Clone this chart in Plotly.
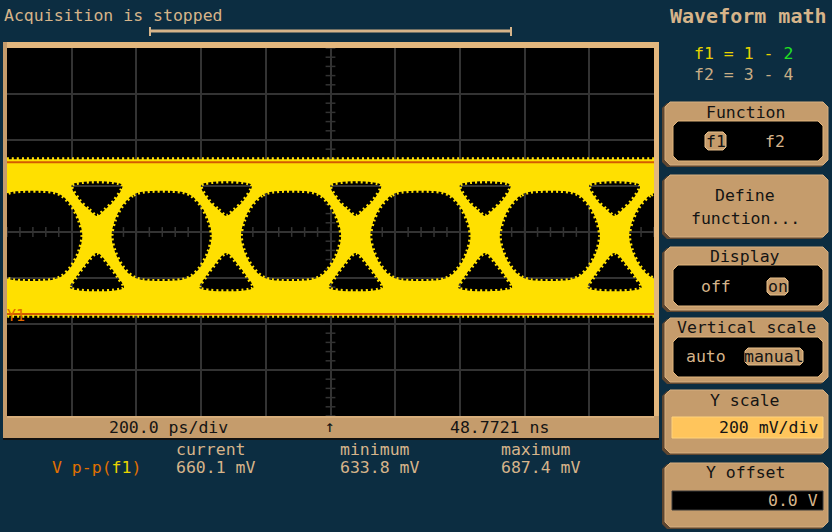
import numpy as np
import plotly.graph_objects as go

W, H = 832, 532

# ---------------- data ----------------
TIME_RANGE_PS = [-1000, 1000]      # 10 div x 200 ps/div
VOLT_RANGE_MV = [-800, 800]        # 8 div x 200 mV/div
CROSSING_TIMES_PS = [-722, -322, 78, 478, 878]
EYE_CENTER_TIMES_PS = [-922, -522, -122, 278, 678, 1078]
LEVEL_HIGH_MV = 303
LEVEL_LOW_MV = -357
BAND_TOP_MV = 316
BAND_BOTTOM_MV = -364
BAND_EDGE_TIMES_PS = [-1200, -1000, -800, -600, -400, -200, 0, 200, 400, 600, 800, 1000, 1200]

# eye opening outline (time offset from eye centre, absolute voltage)
EYE_DT_PS = [60, 90, 120, 145, 155, 145, 120, 90, 60, -60, -90, -120, -145, -155, -145, -120, -90, -60]
EYE_V_MV = [175, 160, 118, 50, -17, -84, -152, -194, -209, -209, -194, -152, -84, -17, 50, 118, 160, 175]
# triangular openings above / below each crossing (time offset from crossing)
UPPER_TRI_DT_PS = [-78, 78, 55, 24, 0, -24, -55]
UPPER_TRI_V_MV = [204, 204, 139, 96, 70, 96, 139]
LOWER_TRI_DT_PS = [0, 37, 65, 83, -83, -65, -37]
LOWER_TRI_V_MV = [-91, -143, -196, -243, -243, -196, -143]

MEAS_LABEL = "V p-p(f1)"
MEAS_COLUMNS = ["current", "minimum", "maximum"]
MEAS_VALUES = ["660.1 mV", "633.8 mV", "687.4 mV"]
TIMEBASE = "200.0 ps/div"
TRIG_POS = "48.7721 ns"

# ---------------- styling ----------------
BG = "#0c2d41"
TAN = "#c59c6c"
TAN_LIGHT = "#e3b77e"
TAN_TEXT = "#d6b48a"
YELLOW = "#ffe000"
ORANGE = "#d45c00"
GRID = "#333333"
MONO = "DejaVu Sans Mono"


def PX(x):
    return x / W


def PY(y):
    return 1 - y / H


fig = go.Figure()

# graticule centre-line ticks
tx = np.arange(TIME_RANGE_PS[0], TIME_RANGE_PS[1] + 1, 40)
vy = np.arange(VOLT_RANGE_MV[0], VOLT_RANGE_MV[1] + 1, 40)
fig.add_trace(go.Scatter(x=tx, y=np.zeros_like(tx), mode="markers",
                         marker=dict(symbol="line-ns", size=7, line=dict(color=GRID, width=1.5)),
                         hoverinfo="skip", showlegend=False))
fig.add_trace(go.Scatter(x=np.zeros_like(vy), y=vy, mode="markers",
                         marker=dict(symbol="line-ew", size=7, line=dict(color=GRID, width=1.5)),
                         hoverinfo="skip", showlegend=False))

# yellow band with openings as holes (opposite winding)
bx, by = [], []
bx += BAND_EDGE_TIMES_PS
by += [BAND_TOP_MV] * len(BAND_EDGE_TIMES_PS)
bx += BAND_EDGE_TIMES_PS[::-1]
by += [BAND_BOTTOM_MV] * len(BAND_EDGE_TIMES_PS)
bx.append(BAND_EDGE_TIMES_PS[0]); by.append(BAND_TOP_MV)


def add_hole(cx, dts, vs):
    xs = [cx + d for d in dts][::-1]
    ys = list(vs)[::-1]
    xs.append(xs[0]); ys.append(ys[0])
    bx.append(None); by.append(None)
    bx.extend(xs); by.extend(ys)


for c in EYE_CENTER_TIMES_PS:
    add_hole(c, EYE_DT_PS, EYE_V_MV)
for c in CROSSING_TIMES_PS:
    add_hole(c, UPPER_TRI_DT_PS, UPPER_TRI_V_MV)
    add_hole(c, LOWER_TRI_DT_PS, LOWER_TRI_V_MV)

fig.add_trace(go.Scatter(x=bx, y=by, mode="lines", fill="toself", fillcolor=YELLOW,
                         line=dict(color=YELLOW, width=4, shape="spline", smoothing=0.9,
                                   dash="2px,3px"),
                         connectgaps=False, hoverinfo="skip", showlegend=False))

# level lines
for lv in (LEVEL_HIGH_MV, LEVEL_LOW_MV):
    fig.add_trace(go.Scatter(x=TIME_RANGE_PS, y=[lv, lv], mode="lines",
                             line=dict(color=ORANGE, width=2), hoverinfo="skip", showlegend=False))

fig.update_layout(
    width=W, height=H, margin=dict(l=0, r=0, t=0, b=0),
    paper_bgcolor=BG, plot_bgcolor="#000000",
    xaxis=dict(domain=[PX(7), PX(654)], range=TIME_RANGE_PS, dtick=200, tick0=0,
               showgrid=True, gridcolor=GRID, gridwidth=2, zeroline=False,
               showticklabels=False, ticks="", showline=False, fixedrange=True),
    yaxis=dict(domain=[PY(416), PY(48)], range=VOLT_RANGE_MV, dtick=200, tick0=0,
               showgrid=True, gridcolor=GRID, gridwidth=2, zeroline=False,
               showticklabels=False, ticks="", showline=False, fixedrange=True),
    showlegend=False,
)

shapes = []


def rect(x0, y0, x1, y1, fill, line=None, lw=0):
    shapes.append(dict(type="rect", xref="paper", yref="paper",
                       x0=PX(x0), x1=PX(x1), y0=PY(y1), y1=PY(y0),
                       fillcolor=fill, line=dict(color=line or fill, width=lw), layer="above"))


def chamfer_path(x0, y0, x1, y1, c):
    pts = [(x0 + c, y0), (x1 - c, y0), (x1, y0 + c), (x1, y1 - c), (x1 - c, y1),
           (x0 + c, y1), (x0, y1 - c), (x0, y0 + c)]
    return "M" + " L".join(f"{PX(x):.5f},{PY(y):.5f}" for x, y in pts) + " Z"


def cpath(x0, y0, x1, y1, c, fill, line=None, lw=0):
    shapes.append(dict(type="path", xref="paper", yref="paper", path=chamfer_path(x0, y0, x1, y1, c),
                       fillcolor=fill, line=dict(color=line or fill, width=lw), layer="above"))


def line(x0, y0, x1, y1, color, w):
    shapes.append(dict(type="line", xref="paper", yref="paper", x0=PX(x0), y0=PY(y0),
                       x1=PX(x1), y1=PY(y1), line=dict(color=color, width=w), layer="above"))


# frame around the graticule
rect(3, 42, 659, 48, TAN_LIGHT)
rect(3, 42, 7, 439, TAN)
rect(654, 42, 659, 439, TAN_LIGHT)
rect(3, 416, 659, 438, TAN)
line(3, 439, 659, 439, "#111111", 2)
line(7, 417, 654, 417, "#e8c08c", 1)

# trigger bar
line(150, 31, 511, 31, TAN_TEXT, 3)
line(150, 27, 150, 36, TAN_TEXT, 2)
line(511, 27, 511, 36, TAN_TEXT, 2)

# right-hand menu boxes
boxes = [(102, 165), (175, 237), (247, 310), (318, 382), (390, 453), (463, 527)]
for (y0, y1) in boxes:
    cpath(662, y0 + 1, 826, y1 + 2, 5, "#5e4630")
    cpath(665, y0, 828, y1, 5, TAN, "#d8b080", 1)

cpath(673, 121, 823, 161, 5, "#000000", TAN_LIGHT, 1)
cpath(673, 265, 823, 306, 5, "#000000", TAN_LIGHT, 1)
cpath(673, 337, 823, 377, 5, "#000000", TAN_LIGHT, 1)
rect(672, 417, 823, 438, "#ffc55c", "#ffd27a", 1)
rect(672, 491, 823, 510, "#000000", "#3a3a3a", 1)
# highlighted selections
cpath(705, 132, 726, 150, 3, TAN, "#e8c08c", 1)
cpath(767, 278, 788, 295, 3, TAN, "#e8c08c", 1)
cpath(745, 348, 803, 365, 3, TAN, "#e8c08c", 1)

fig.update_layout(shapes=shapes)

ann = []


def text(x, y, s, color, size=16.5, anchor="center", bold=False):
    ann.append(dict(xref="paper", yref="paper", x=PX(x), y=PY(y), text=f"<b>{s}</b>" if bold else s,
                    showarrow=False, xanchor=anchor, yanchor="middle", borderpad=0,
                    font=dict(family=MONO, size=size, color=color)))


text(3, 15, "Acquisition is stopped", TAN_TEXT, anchor="left")
text(748, 16, "Waveform math", TAN_TEXT, size=20, bold=True)
text(693, 53, "<span style='color:#e8d400'>f1 = 1 - </span><span style='color:#22e022'>2</span>",
     "#e8d400", anchor="left")
text(693, 75, "f2 = 3 - 4", "#c9ad85", anchor="left")

DARK = "#141414"
text(745, 112, "Function", DARK)
text(715.5, 141, "f1", DARK)
text(775, 141, "f2", TAN_TEXT)
text(745, 195, "Define", DARK)
text(745, 218, "function...", DARK)
text(745, 256, "Display", DARK)
text(716, 286, "off", TAN_TEXT)
text(777.5, 286, "on", DARK)
text(746, 327, "Vertical scale", DARK)
text(706, 356, "auto", TAN_TEXT)
text(774, 356, "manual", DARK)
text(745, 400, "Y scale", DARK)
text(819, 427, "200 mV/div", DARK, anchor="right")
text(745, 472, "Y offset", DARK)
text(819, 500, "0.0 V", TAN_TEXT, anchor="right")

# bottom bar
text(168, 427, TIMEBASE, DARK)
text(330, 426, "↑", DARK)
text(499, 427, TRIG_POS, DARK)

# measurements
cols_x = [175, 339, 500]
for cx, name, val in zip(cols_x, MEAS_COLUMNS, MEAS_VALUES):
    text(cx, 449, name, TAN_TEXT, anchor="left")
    text(cx, 467, val, TAN_TEXT, anchor="left")
text(51, 467, "<span style='color:#e07000'>V p-p(</span><span style='color:#e8d400'>f1</span>"
     "<span style='color:#e07000'>)</span>", "#e07000", anchor="left")

# Y1 marker
text(6, 316, "Y1", "#e06a00", size=15, anchor="left")

fig.update_layout(annotations=ann)

fig.write_html("out.html", config={"displayModeBar": False, "staticPlot": True},
               post_script="document.body.style.margin='0';document.body.style.overflow='hidden';")
